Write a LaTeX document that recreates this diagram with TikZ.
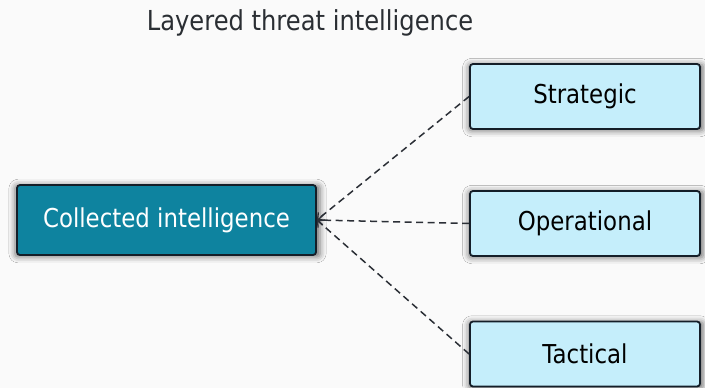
\documentclass[tikz,border=0pt]{standalone}
\usepackage{fontspec}
\setmainfont{DejaVu Sans}[FakeStretch=0.88]
\usetikzlibrary{arrows.meta,shadows.blur}
\definecolor{bgc}{HTML}{FAFAFA}
\definecolor{darkfill}{HTML}{0E839F}
\definecolor{lightfill}{HTML}{C5EEFB}
\definecolor{edgec}{HTML}{141E28}
\definecolor{linec}{HTML}{2B2F36}
\definecolor{titlec}{HTML}{2A2E33}
\tikzset{
  box/.style={draw=edgec, line width=1.8pt, rounded corners=3pt,
    minimum height=65pt, inner sep=0pt, font=\fontsize{26}{30}\selectfont,
    blur shadow={shadow xshift=1pt, shadow yshift=-1pt, shadow blur radius=6pt, shadow opacity=55, shadow scale=1.02}},
  srcbox/.style={box, fill=darkfill, text=white, minimum width=299pt, minimum height=70pt},
  layerbox/.style={box, fill=lightfill, text=black, minimum width=230pt},
  link/.style={draw=linec, line width=1.5pt, dash pattern=on 7pt off 4.5pt,
    -{Straight Barb[length=5pt,width=10pt,line width=1.3pt]}},
}
\begin{document}
\begin{tikzpicture}[x=1pt,y=1pt]
\fill[bgc] (0,0) rectangle (705,-388);
\useasboundingbox (0,0) rectangle (705,-388);
\node[font=\fontsize{27.5}{32}\selectfont, text=titlec] (title) at (310,-23) {Layered threat intelligence};
\node[srcbox] (src) at (166.5,-220) {Collected intelligence};
\node[layerbox] (str) at (585,-96.5) {Strategic};
\node[layerbox] (ope) at (585,-223.5) {Operational};
\node[layerbox] (tac) at (585,-354) {Tactical};
\draw[link] (str.west) -- (src.east);
\draw[link] (ope.west) -- (src.east);
\draw[link] (tac.west) -- (src.east);
\end{tikzpicture}
\end{document}
